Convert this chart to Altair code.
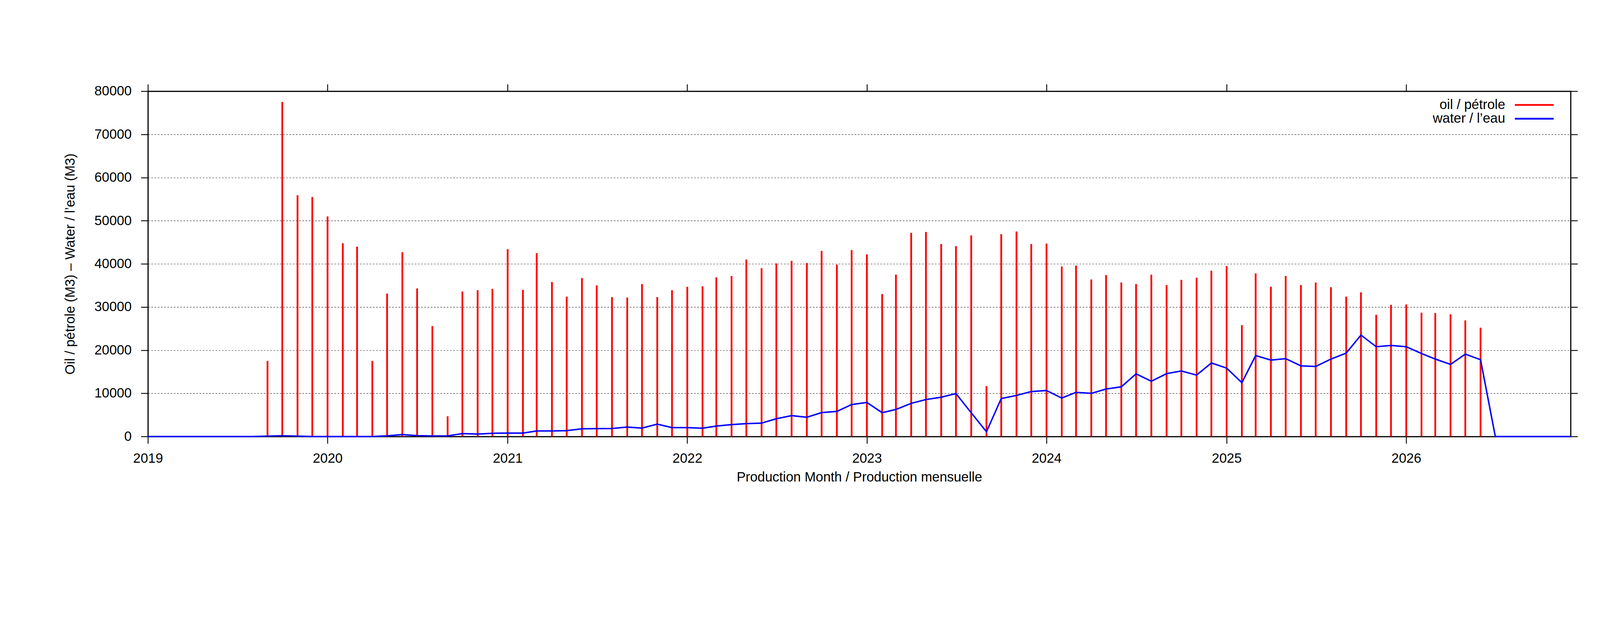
import altair as alt
import pandas as pd

# ---- data ----
oil_start = "2019-09-01"
oil_values = [
    17500, 77500, 55900, 55500,                      # 2019-09 .. 2019-12
    51000, 44800, 44000, 17500, 33100, 42700,        # 2020-01 .. 2020-06
    34300, 25600, 4700, 33600, 33900, 34200,         # 2020-07 .. 2020-12
    43400, 34000, 42500, 35800, 32400, 36700,        # 2021
    35000, 32300, 32200, 35300, 32300, 33900,
    34700, 34800, 36900, 37200, 41000, 39000,        # 2022
    40100, 40700, 40200, 43000, 39800, 43200,
    42200, 33000, 37500, 47200, 47400, 44600,        # 2023
    44100, 46600, 11700, 46900, 47500, 44600,
    44700, 39400, 39600, 36400, 37400, 35700,        # 2024
    35300, 37500, 35100, 36300, 36800, 38400,
    39500, 25800, 37800, 34700, 37200, 35100,        # 2025
    35700, 34600, 32400, 33400, 28200, 30500,
    30600, 28700, 28600, 28300, 26900, 25200,        # 2026-01 .. 2026-06
]

water_start = "2019-01-01"
water_values = [
    0, 0, 0, 0, 0, 0, 0, 0, 100, 180, 100, 0,                              # 2019
    0, 0, 0, 0, 150, 450, 200, 130, 130, 680, 570, 750,                   # 2020
    790, 790, 1290, 1290, 1360, 1790, 1830, 1860, 2190, 1950, 2870, 2060,  # 2021
    2060, 1920, 2420, 2760, 2990, 3100, 4120, 4840, 4460, 5540, 5810, 7400,  # 2022
    7900, 5520, 6270, 7690, 8570, 9100, 9950, 5500, 1100, 8810, 9520, 10420,  # 2023
    10660, 8900, 10230, 10000, 11000, 11520, 14520, 12800, 14570, 15180, 14230, 17040,  # 2024
    15850, 12470, 18750, 17710, 18040, 16370, 16230, 17950, 19330, 23510, 20800, 21090,  # 2025
    20800, 19230, 17950, 16710, 19090, 17800, 0, 0, 0, 0, 0, 0,           # 2026
]

year_ticks = [2019, 2020, 2021, 2022, 2023, 2024, 2025, 2026]
y_ticks = [0, 10000, 20000, 30000, 40000, 50000, 60000, 70000, 80000]
series_names = ["oil / pétrole", "water / l\u2019eau"]
series_colors = ["#ff0000", "#0000ff"]
x_title = "Production Month / Production mensuelle"
y_title = "Oil / pétrole (M3) \u2013  Water / l\u2019eau (M3)"

oil_df = pd.DataFrame({
    "month": pd.date_range(oil_start, periods=len(oil_values), freq="MS").strftime("%Y-%m-%d"),
    "oil": oil_values,
})
water_df = pd.DataFrame({
    "month": pd.date_range(water_start, periods=len(water_values), freq="MS").strftime("%Y-%m-%d"),
    "water": water_values,
})

# ---- layout ----
W, H = 4873, 1182
FONT = "Liberation Sans"
FS = 46

x_scale = alt.Scale(type="utc", domain=[alt.DateTime(year=2019, month=1, date=1, utc=True),
                                         alt.DateTime(year=2026, month=12, date=1, utc=True)])
y_scale = alt.Scale(domain=[0, 80000], nice=False, zero=True)
x_vals = [alt.DateTime(year=y, month=1, date=1, utc=True) for y in year_ticks]

common_axis = dict(tickSize=24, tickWidth=3, tickColor="black", domain=True,
                   domainWidth=4, domainColor="black", domainCap="square")

x_bottom = alt.Axis(orient="bottom", values=x_vals, format="%Y", labelFont=FONT, labelFontSize=FS,
                    labelColor="black", labelPadding=29, grid=False, title=x_title,
                    titleFont=FONT, titleFontSize=FS, titleFontWeight="normal", titleColor="black",
                    titleX=W / 2, titleY=139, titleBaseline="middle", titleAlign="center",
                    labelFlush=False, labelOverlap=False, **common_axis)
x_top = alt.Axis(orient="top", values=x_vals, labels=False, grid=False, title="", **common_axis)
y_left = alt.Axis(orient="left", values=y_ticks, format="d", labelFont=FONT, labelFontSize=FS,
                  labelColor="black", labelPadding=32, grid=True, gridColor="#333333",
                  gridWidth=1.5, gridDash=[6, 5], title=y_title, titleFont=FONT, titleFontSize=FS,
                  titleFontWeight="normal", titleColor="black", titleX=-265, titleY=H / 2,
                  titleBaseline="middle", titleAlign="center", titleAngle=270,
                  labelFlush=False, labelOverlap=False, **common_axis)
y_right = alt.Axis(orient="right", values=y_ticks, labels=False, grid=False, title="", **common_axis)

oil = alt.Chart(oil_df).mark_rule(color=series_colors[0], strokeWidth=6).encode(
    x=alt.X("month:T", scale=x_scale, axis=x_bottom),
    y=alt.Y("oil:Q", scale=y_scale, axis=y_left),
    y2=alt.datum(0),
)

water = alt.Chart(water_df).mark_line(color=series_colors[1], strokeWidth=5).encode(
    x=alt.X("month:T", scale=x_scale, axis=x_top),
    y=alt.Y("water:Q", scale=y_scale, axis=y_right),
)

# legend (gnuplot style: text then line sample, top right inside the plot)
legend_layers = []
for i, (name, col) in enumerate(zip(series_names, series_colors)):
    ly = 47 + 47 * i
    legend_layers.append(
        alt.Chart(pd.DataFrame({"label": [name]})).mark_text(
            font=FONT, fontSize=FS, align="right", baseline="middle", color="black"
        ).encode(text="label:N", x=alt.value(4649), y=alt.value(ly))
    )
    legend_layers.append(
        alt.Chart(pd.DataFrame({"label": [name]})).mark_rule(color=col, strokeWidth=6).encode(
            x=alt.value(4682), x2=alt.value(4815), y=alt.value(ly)
        )
    )

chart = alt.layer(oil, water, *legend_layers).resolve_scale(
    x="shared", y="shared"
).resolve_axis(
    x="independent", y="independent"
).properties(
    width=W, height=H,
    autosize=alt.AutoSizeParams(type="none"),
    padding={"left": 496, "top": 38, "right": 90, "bottom": 340},
    background="white",
).configure_view(strokeWidth=0)

chart.save("out.html", embed_options={"renderer": "svg", "actions": False})
